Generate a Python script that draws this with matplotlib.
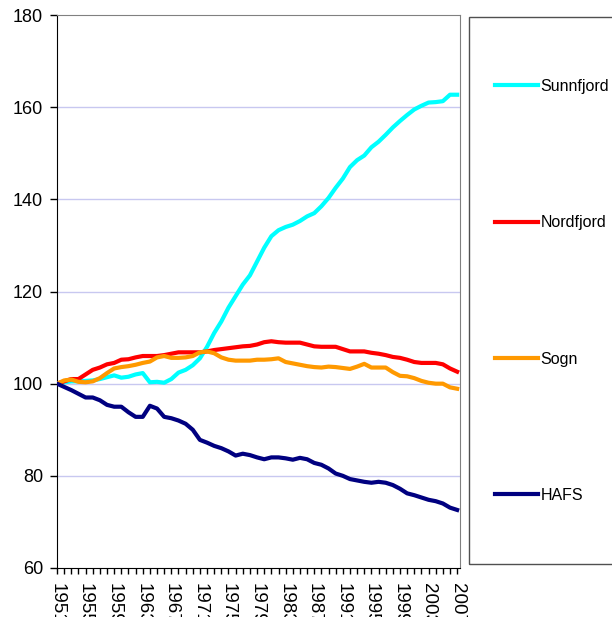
import numpy as np
import matplotlib
matplotlib.use('Agg')
import matplotlib.pyplot as plt
from matplotlib.patches import Rectangle

plt.rcParams['font.family'] = ['Liberation Sans', 'DejaVu Sans']

years = list(range(1951, 2008))

sunnfjord = [100, 100.3, 100.5, 100.5, 100.6, 100.7, 101, 101.4, 101.8, 101.3,
             101.5, 102, 102.3, 100.3, 100.4, 100.2, 101, 102.4, 103, 104,
             105.5, 108, 111, 113.5, 116.5, 119, 121.5, 123.5, 126.5, 129.5,
             132, 133.3, 134, 134.5, 135.3, 136.3, 137, 138.5, 140.3, 142.5,
             144.5, 147, 148.5, 149.5, 151.3, 152.5, 154, 155.6, 157, 158.3,
             159.5, 160.3, 161, 161.1, 161.3, 162.7, 162.7]
nordfjord = [100, 100.5, 101, 101, 102, 103, 103.5, 104.2, 104.5, 105.2,
             105.3, 105.7, 106, 106, 106, 106.2, 106.5, 106.8, 106.8, 106.8,
             106.8, 107, 107.3, 107.5, 107.7, 107.9, 108.1, 108.2, 108.5, 109,
             109.2, 109, 108.9, 108.9, 108.9, 108.5, 108.1, 108, 108, 108,
             107.5, 107, 107, 107, 106.7, 106.5, 106.2, 105.8, 105.6, 105.2,
             104.7, 104.5, 104.5, 104.5, 104.2, 103.3, 102.6]
sogn = [100, 100.7, 100.9, 100.4, 100.3, 100.5, 101.2, 102.3, 103.3, 103.6,
        103.8, 104.1, 104.5, 104.8, 105.7, 106, 105.6, 105.6, 105.7, 106,
        106.8, 107, 106.6, 105.7, 105.2, 105, 105, 105, 105.2, 105.2,
        105.3, 105.5, 104.7, 104.4, 104.1, 103.8, 103.6, 103.5, 103.7, 103.6,
        103.4, 103.2, 103.7, 104.3, 103.5, 103.5, 103.5, 102.5, 101.7, 101.6,
        101.2, 100.6, 100.2, 100, 100, 99.2, 98.9]
hafs = [100, 99.3, 98.6, 97.8, 97, 97, 96.4, 95.4, 95, 95,
        93.8, 92.8, 92.8, 95.2, 94.6, 92.8, 92.5, 92, 91.3, 90,
        87.8, 87.2, 86.5, 86, 85.3, 84.4, 84.8, 84.5, 84, 83.6,
        84, 84, 83.8, 83.5, 83.9, 83.6, 82.8, 82.4, 81.6, 80.5,
        80, 79.3, 79, 78.7, 78.5, 78.7, 78.5, 78, 77.2, 76.2,
        75.8, 75.3, 74.8, 74.5, 74, 73.1, 72.6]

names = ['Sunnfjord', 'Nordfjord', 'Sogn', 'HAFS']
colors = ['#00FFFF', '#FF0000', '#FF9900', '#000080']

fig = plt.figure(figsize=(6.12, 6.17), dpi=100)
ax = fig.add_axes([57/612, 1-568/617, (460-57)/612, (568-15)/617])

x = np.arange(len(years))
for vals, name, col in zip([sunnfjord, nordfjord, sogn, hafs], names, colors):
    ax.plot(x, vals, color=col, lw=3, label=name, solid_joinstyle='round', zorder=3)

ax.set_xlim(0, 56.4)
ax.set_ylim(60, 180)
ax.set_yticks(range(60, 181, 20))
for v in range(80, 161, 20):
    ax.axhline(v, color='#c8c8f0', lw=1, zorder=1)

ax.set_xticks(x)
ax.set_xticklabels([str(y) if i % 4 == 0 else '' for i, y in enumerate(years)], rotation=270)
ax.tick_params(axis='x', direction='out', length=4, width=1, labelsize=13.5, pad=7)
ax.tick_params(axis='y', direction='out', length=5, width=1, labelsize=13, pad=5)

ax.spines['top'].set_color('#808080')
ax.spines['right'].set_color('#808080')
ax.spines['left'].set_color('black')
ax.spines['bottom'].set_color('black')

# legend box
fig.add_artist(Rectangle((469/612, 1-564/617), 0.3, (564-17)/617, transform=fig.transFigure,
                         fill=False, edgecolor='#505050', lw=1))
handles, labels = ax.get_legend_handles_labels()
fig.legend(handles, labels, loc='center left', bbox_to_anchor=(495/612, 1-291/617),
           frameon=False, fontsize=11.5, handlelength=2.7, handletextpad=0.15,
           labelspacing=7.6, borderpad=0, borderaxespad=0)

fig.savefig('out.png', dpi=100)
